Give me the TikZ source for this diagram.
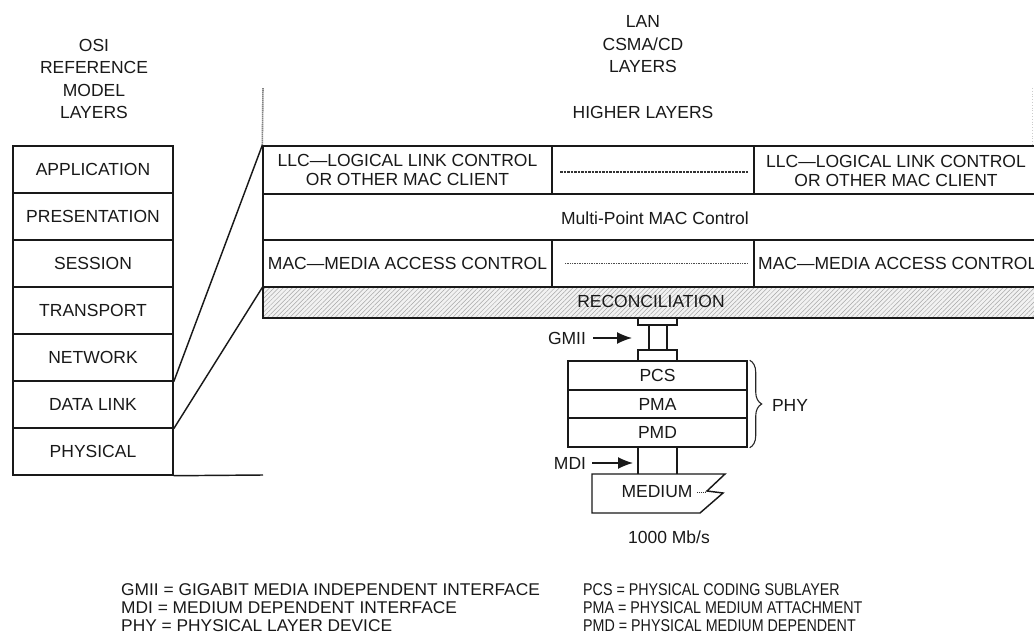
\documentclass[tikz,border=0pt]{standalone}
\usepackage{fontspec}
\setmainfont{Liberation Sans}
\newfontfamily\legR[FakeStretch=0.84]{Liberation Sans}
\newfontfamily\legL[FakeStretch=1.02]{Liberation Sans}
\usetikzlibrary{patterns.meta,decorations.pathreplacing,arrows.meta,fit}
\begin{document}
\begin{tikzpicture}[x=1pt,y=-1pt,
  ln/.style={line width=1.45pt, draw=black!90},
  bx/.style={ln, inner sep=0pt, rectangle},
  open/.style={inner sep=0pt, rectangle},
  lbl/.style={font=\fontsize{17.5}{22.5}\selectfont, text=black!90, inner sep=0pt, align=center},
  two/.style={font=\fontsize{17.5}{18.5}\selectfont, text=black!90, inner sep=0pt, align=center},
  every label/.style={lbl},
  arr/.style={line width=1.45pt, draw=black!90, -{Latex[length=15pt,width=12pt]}},
  legl/.style={font=\legL\fontsize{17}{18}\selectfont, text=black!90, inner sep=0pt, anchor=west},
  legr/.style={font=\legR\fontsize{17}{18}\selectfont, text=black!90, inner sep=0pt, anchor=west}
]
\useasboundingbox (0,0) rectangle (1034,639);
\clip (0,0) rectangle (1034,639);
\fill[white] (0,0) rectangle (1034,639);

% titles
\node[lbl] (osiT) at (94,79) {OSI\\REFERENCE\\MODEL\\LAYERS};
\node[lbl] (lanT) at (643,44.5) {LAN\\CSMA/CD\\LAYERS};
\node[lbl] (higher) at (643,112) {HIGHER LAYERS};

% OSI stack
\node[bx, fit={(13,146)(173,193)}, label={center:APPLICATION}] (app) {};
\node[bx, fit={(13,193)(173,240)}, label={center:PRESENTATION}] (pres) {};
\node[bx, fit={(13,240)(173,287)}, label={center:SESSION}] (sess) {};
\node[bx, fit={(13,287)(173,334)}, label={center:TRANSPORT}] (trans) {};
\node[bx, fit={(13,334)(173,381)}, label={center:NETWORK}] (net) {};
\node[bx, fit={(13,381)(173,428)}, label={center:DATA LINK}] (dl) {};
\node[bx, fit={(13,428)(173,475)}, label={center:PHYSICAL}] (phys) {};

% LAN stack
\node[bx, fit={(263,146)(552,194)}] (llcL) {};
\node[two] at (llcL.center) {LLC---LOGICAL LINK CONTROL\\OR OTHER MAC CLIENT};
\node[bx, fit={(552,146)(754,194)}] (llcM) {};
\node[bx, fit={(754,146)(1045,194)}] (llcR) {};
\node[two] at (896,170.75) {LLC---LOGICAL LINK CONTROL\\OR OTHER MAC CLIENT};
\draw[line width=1.8pt, dash pattern=on 2.5pt off 1pt, black!80] (560,172) -- (748,172);

\node[bx, fit={(263,194)(1045,240)}] (mpmc) {};
\node[lbl] (mpmcT) at (655,218) {Multi-Point MAC Control};

\node[bx, fit={(263,240)(552,287)}, label={center:MAC---MEDIA ACCESS CONTROL}] (macL) {};
\node[bx, fit={(552,240)(754,287)}] (macM) {};
\node[bx, fit={(754,240)(1045,287)}] (macR) {};
\node[lbl, anchor=west] (macRT) at (758,263) {MAC---MEDIA ACCESS CONTROL};
\draw[densely dotted, line width=0.7pt, black!70] (565,263) -- (748,263);

\node[bx, fit={(263,287)(1045,318)},
      preaction={fill=gray!10},
      pattern={Lines[angle=45,distance=3.2pt,line width=0.5pt]}, pattern color=gray!70] (rec) {};
\node[lbl] (recT) at (651,301) {RECONCILIATION};

% connectors OSI -> LAN
\draw[ln] (net.south east) -- (llcL.north west);
\draw[ln] (dl.south east) -- (rec.north west);
\coordinate (baseEnd) at (263,475);
\draw[ln] (phys.south east) -- (baseEnd);
\coordinate (dotTop) at (263,88);
\draw[line width=1.6pt, dash pattern=on 1pt off 1pt, black!75] (llcL.north west) -- (dotTop);
\coordinate (dotTopR) at (1032,88);
\coordinate (dotBotR) at (1032,146);
\draw[line width=0.8pt, dotted, gray!40] (dotTopR) -- (dotBotR);

% GMII
\node[bx, fit={(638,318)(677,325)}] (gtop) {};
\node[open, fit={(649,325)(667,350)}] (gmid) {};
\node[bx, fit={(638,350)(677,361)}] (gbot) {};
\draw[ln] (gmid.north west) -- (gmid.south west) (gmid.north east) -- (gmid.south east);
\node[lbl] (gmiiL) at (567,338) {GMII};
\coordinate (gmiiTip) at (632,338);
\draw[arr] ([xshift=7pt]gmiiL.east) -- (gmiiTip);

% PHY
\node[bx, fit={(568,361)(747,390)}, label={center:PCS}] (pcs) {};
\node[bx, fit={(568,390)(747,418)}, label={center:PMA}] (pma) {};
\node[bx, fit={(568,418)(747,447)}, label={center:PMD}] (pmd) {};
\draw[line width=1.1pt, black!85, decorate, decoration={brace, amplitude=12pt, aspect=0.5}]
  ([xshift=2pt]pcs.north east) -- ([xshift=2pt]pmd.south east);
\node[lbl] (phy) at (790,405) {PHY};

% MDI
\node[open, fit={(638,447)(677,474)}] (mdic) {};
\draw[ln] (mdic.north west) -- (mdic.south west) (mdic.north east) -- (mdic.south east);
\node[lbl] (mdiL) at (570,463) {MDI};
\coordinate (mdiTip) at (633,463);
\draw[arr] ([xshift=6pt]mdiL.east) -- (mdiTip);

% Medium
\draw[ln, line join=miter] (592,474) -- (725,474) -- (707,491) -- (723,493) -- (700,513) -- (592,513) -- cycle;
\node[lbl] (med) at (657,492) {MEDIUM};
\draw[densely dotted, line width=0.9pt, black!80] (697,492) -- (705,492);
\node[lbl] (speed) at (669,537) {1000 Mb/s};

% legend
\node[legl] (l1) at (121,590) {GMII = GIGABIT MEDIA INDEPENDENT INTERFACE};
\node[legl] (l2) at (121,608) {MDI = MEDIUM DEPENDENT INTERFACE};
\node[legl] (l3) at (121,626) {PHY = PHYSICAL LAYER DEVICE};
\node[legr] (r1) at (583,590) {PCS = PHYSICAL CODING SUBLAYER};
\node[legr] (r2) at (583,608) {PMA = PHYSICAL MEDIUM ATTACHMENT};
\node[legr] (r3) at (583,626) {PMD = PHYSICAL MEDIUM DEPENDENT};
\end{tikzpicture}
\end{document}
